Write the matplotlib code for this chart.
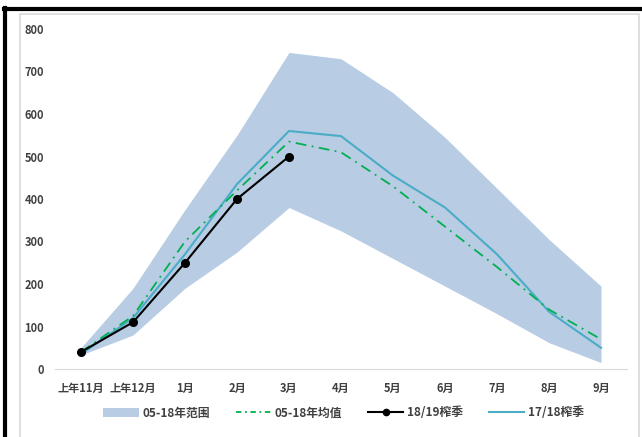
import matplotlib
matplotlib.use("Agg")
import matplotlib.pyplot as plt
from matplotlib.patches import Rectangle, Patch
from matplotlib.lines import Line2D

plt.rcParams["font.family"] = ["Noto Sans CJK SC", "DejaVu Sans"]

MONTHS = ["上年11月", "上年12月", "1月", "2月", "3月", "4月", "5月", "6月", "7月", "8月", "9月"]
RANGE_HI = [50, 190, 375, 550, 745, 730, 650, 545, 425, 305, 195]
RANGE_LO = [33, 80, 190, 275, 380, 325, 260, 195, 130, 62, 15]
MEAN_05_18 = [40, 125, 300, 420, 535, 510, 430, 335, 240, 140, 70]
SEASON_1819 = [40, 110, 250, 400, 500]
SEASON_1718 = [35, 120, 270, 435, 560, 548, 455, 380, 270, 135, 50]

FILL = "#b8cce4"
GREEN = "#00b050"
CYAN = "#4bacc6"
INK = "#404040"

W, H = 642, 437
fig = plt.figure(figsize=(W / 100, H / 100), dpi=100)

# 外框: 浅灰图表区 + 黑色边线
fig.add_artist(Rectangle((20 / W, -0.01), 619 / W, (H - 14) / H + 0.01,
                         transform=fig.transFigure, fill=False,
                         ec="#d9d9d9", lw=1.2))
fig.add_artist(Line2D([5.5 / W, 5.5 / W], [0, 1 - 8 / H],
                      transform=fig.transFigure, color="black", lw=3))
fig.add_artist(Line2D([4 / W, 1], [1 - 8.5 / H, 1 - 8.5 / H],
                      transform=fig.transFigure, color="black", lw=3))

ax = fig.add_axes([55 / W, 1 - 369 / H, 572 / W, 340 / H])
x = list(range(len(MONTHS)))

ax.fill_between(x, RANGE_LO, RANGE_HI, color=FILL, lw=0, zorder=1)
ax.plot(x, MEAN_05_18, color=GREEN, lw=1.3, ls=(0, (6, 3, 1, 3)), zorder=3)
ax.plot(x[:len(SEASON_1819)], SEASON_1819, color="black", lw=1.5,
        marker="o", ms=5.5, zorder=4)
ax.plot(x, SEASON_1718, color=CYAN, lw=1.5, zorder=2)

ax.set_xlim(-0.5, len(MONTHS) - 0.5)
ax.set_ylim(0, 800)
ax.set_yticks(range(0, 801, 100))
ax.set_xticks(x)
ax.set_xticklabels(MONTHS)
for sp in ("top", "right", "left"):
    ax.spines[sp].set_visible(False)
ax.spines["bottom"].set_color("#d9d9d9")
ax.tick_params(axis="both", length=0, labelsize=8, colors=INK)
ax.tick_params(axis="x", pad=9)
ax.tick_params(axis="y", pad=8)
for lab in ax.get_xticklabels() + ax.get_yticklabels():
    lab.set_fontweight("bold")

handles = [
    Patch(facecolor=FILL, edgecolor="none"),
    Line2D([], [], color=GREEN, lw=1.3, ls=(0, (3, 2, 1, 2))),
    Line2D([], [], color="black", lw=1.5, marker="o", ms=4.5),
    Line2D([], [], color=CYAN, lw=1.5),
]
labels = ["05-18年范围", "05-18年均值", "18/19榨季", "17/18榨季"]
leg = fig.legend(handles, labels, loc="center",
                 bbox_to_anchor=(0.535, 1 - 413 / H),
                 ncol=4, frameon=False, handlelength=3.0, columnspacing=2.2,
                 handletextpad=0.3, fontsize=8.5, labelcolor=INK)
for t in leg.get_texts():
    t.set_fontweight("bold")

fig.savefig("out.png", dpi=100, facecolor="white")
